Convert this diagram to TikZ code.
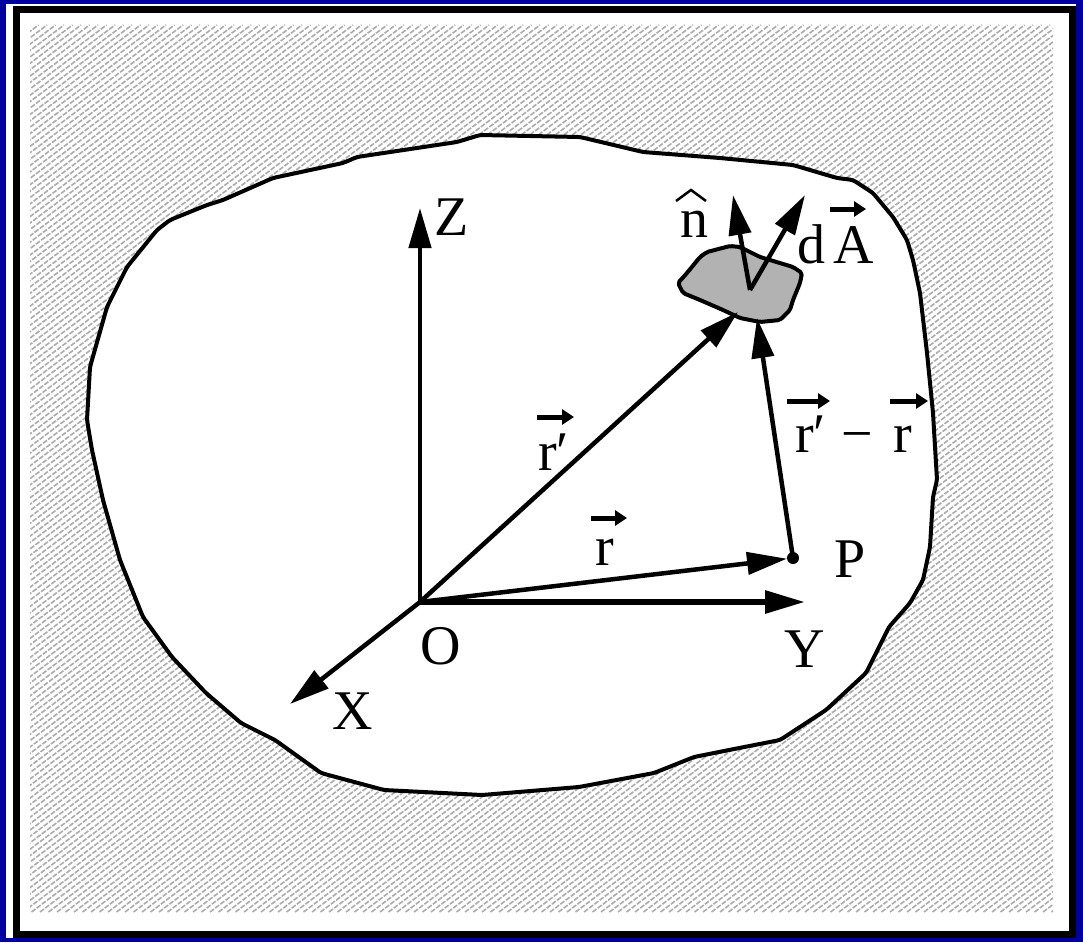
\documentclass[tikz,border=0pt]{standalone}
\usepackage{fontspec}
\setmainfont{Liberation Serif}
\usetikzlibrary{arrows.meta}
\definecolor{navy}{RGB}{0,0,160}
\begin{document}
\begin{tikzpicture}[x=1pt,y=-1pt,
  axis/.style={line width=4.5pt,-{Triangle[length=40pt,width=22pt]}},
  vecbar/.style={line width=5pt,-{Triangle[length=12pt,width=15pt]}},
  lbl/.style={font=\fontsize{56}{60}\selectfont,inner sep=0pt,anchor=base},
  hatch/.style={line width=1.6pt,gray!65,dash pattern=on 5pt off 1.5pt},
  outline/.style={line width=4pt,line join=round}]
\useasboundingbox (0,0) rectangle (1083,942);
\fill[navy] (0,0) rectangle (1083,942);
\fill[white] (6,4) rectangle (1076,938);
\draw[line width=7pt] (16.5,9.5) rectangle (1072.5,934.5);
% hatched background
\begin{scope}
  \clip (30,25) rectangle (1053,912);
  \foreach \i in {0,...,272} {
    \draw[hatch] ({-1150+\i*8.5},912) -- ++(1180,-887);
  }
\end{scope}
% white region
\draw[outline,fill=white,rounded corners=3pt]
  (480,135) -- (580,137) -- (643,152) -- (720,158) -- (793,165) -- (837,178)
  -- (853,180) -- (873,193) -- (893,217) -- (907,240) -- (913,260) -- (920,293)
  -- (927,353) -- (933,413) -- (937,480) -- (933,497) -- (930,547) -- (923,580)
  -- (910,603) -- (889,627) -- (866,673) -- (826,710) -- (780,740) -- (729,750)
  -- (694,757) -- (654,773) -- (579,787) -- (482,795) -- (384,790) -- (321,773)
  -- (275,740) -- (241,723) -- (206,693) -- (172,657) -- (143,617) -- (120,560)
  -- (103,500) -- (92,450) -- (87,420) -- (90,367) -- (107,307) -- (127,267)
  -- (157,230) -- (170,220) -- (207,205) -- (223,200) -- (273,178) -- (343,163)
  -- (357,157) -- (457,142) -- cycle;
% small surface element
\draw[outline,fill=black!30,rounded corners=2pt]
  (678,283) -- (687,273) -- (700,257) -- (707,252) -- (730,246) -- (740,247)
  -- (750,252) -- (760,257) -- (793,267) -- (802,273) -- (800,283) -- (793,300)
  -- (790,310) -- (780,320) -- (760,322) -- (740,318) -- (723,310) -- (700,300)
  -- (683,293) -- cycle;
% coordinates
\coordinate (O) at (420,602);
\coordinate (Zt) at (420,208);
\coordinate (Yt) at (805,602);
\coordinate (Xt) at (290,704);
\coordinate (P) at (793,558);
\coordinate (Rpt) at (738,312);
\coordinate (Dt) at (757,318);
\coordinate (nb) at (750,290);
\coordinate (nt) at (733,195);
\coordinate (dAt) at (805,195);
% vectors
\draw[axis] (O) -- (Zt);
\draw[axis,line width=6pt] (O) -- (Yt);
\draw[axis] (O) -- (Xt);
\draw[axis] (O) -- (Rpt);
\draw[axis,shorten >=6pt] (O) -- (P);
\draw[axis] (P) -- (Dt);
\fill (P) circle (6pt);
\draw[axis] (nb) -- (nt);
\draw[axis] (nb) -- (dAt);
% labels
\node[lbl] (Zl) at (452,235) {Z};
\node[lbl] (Ol) at (441,664) {O};
\node[lbl] (Yl) at (805,667) {Y};
\node[lbl] (Xl) at (353,729) {X};
\node[lbl] (Pl) at (850,577) {P};
\node[lbl] (rl) at (605,565) {r};
\node[lbl,anchor=base west] (rpl) at (538,470) {r′};
\node[lbl,anchor=base west] (dl) at (795,452) {r′};
\node[lbl] (ml) at (857,452) {−};
\node[lbl,anchor=base west] (rl2) at (893,452) {r};
\node[lbl,anchor=base west] (nl) at (680,237) {n};
\node[lbl,anchor=base west] (dAl) at (797,263) {d\kern8pt A};
% vector marks over letters
\draw[vecbar] (591,518) -- (627,518);
\draw[vecbar] (537,417) -- (574,417);
\draw[vecbar] (787,401) -- (830,401);
\draw[vecbar] (890,401) -- (928,401);
\draw[vecbar] (830,209) -- (866,209);
\draw[line width=2.5pt,line join=miter] (676,201) -- (691,190) -- (706,201);
\end{tikzpicture}
\end{document}
